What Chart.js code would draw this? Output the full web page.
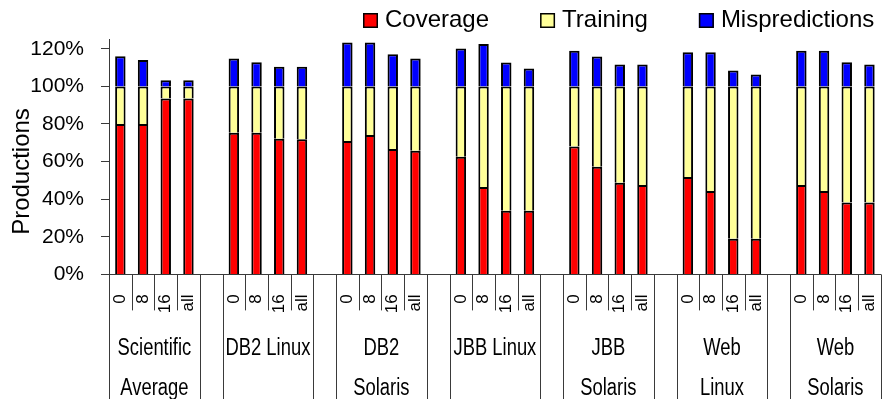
<!DOCTYPE html>
<html>
<head>
<meta charset="utf-8">
<script src="https://cdn.jsdelivr.net/npm/chart.js@4/dist/chart.umd.min.js"></script>
<style>
  html, body { margin: 0; padding: 0; overflow: hidden; background: #fff; }
  canvas { display: block; }
</style>
</head>
<body>
<canvas id="chart" width="910" height="399"></canvas>
<script>
// Cache configurations per workload
const configs = ['0', '8', '16', 'all'];
const workloads = [
  ['Scientific', 'Average'],
  ['DB2 Linux'],
  ['DB2', 'Solaris'],
  ['JBB Linux'],
  ['JBB', 'Solaris'],
  ['Web', 'Linux'],
  ['Web', 'Solaris']
];

// Percent of productions, four configurations per workload
const coverage = [
  80, 80, 93.5, 93.5,
  75.4, 75.4, 72.2, 71.9,
  71, 74.2, 66.7, 65.8,
  62.6, 46.5, 33.9, 33.9,
  68, 57.3, 48.8, 47.6,
  51.8, 44.4, 19, 19,
  47.6, 44.4, 38.2, 38.2
];
const training = [
  20, 20, 6.5, 6.5,
  24.6, 24.6, 27.8, 28.1,
  29, 25.8, 33.3, 34.2,
  37.4, 53.5, 66.1, 66.1,
  32, 42.7, 51.2, 52.4,
  48.2, 55.6, 81, 81,
  52.4, 55.6, 61.8, 61.8
];
const mispredictions = [
  16, 14, 3.3, 3.3,
  14.8, 12.9, 10.5, 10.5,
  23.3, 23.3, 17.1, 14.8,
  20.1, 22.5, 12.7, 9.5,
  18.9, 15.9, 11.6, 11.6,
  18.2, 18.2, 8.4, 6.3,
  18.9, 18.9, 12.9, 11.6
];
const yTicks = [0, 20, 40, 60, 80, 100, 120];

// Lay the workloads out side by side with one empty slot between them
function spread(values, blank) {
  const out = [];
  workloads.forEach((w, g) => {
    for (let k = 0; k < configs.length; k++) out.push(values[g * configs.length + k]);
    if (g < workloads.length - 1) out.push(blank);
  });
  return out;
}
const slotLabels = spread(workloads.flatMap(() => configs), '');
const SLOTS_PER_GROUP = configs.length + 1;

const FONT = '"Liberation Sans", Arial, sans-serif';
const LINE = '#3a3a3a';

// Second category row, separators, legend and axis title
const decorations = {
  id: 'decorations',
  afterDraw(chart) {
    const { ctx, chartArea } = chart;
    const x = chart.scales.x;
    const n = slotLabels.length;
    const slot = (x.right - x.left) / n;
    const axisY = chartArea.bottom;
    const bottom = chart.height;
    const edge = i => Math.round(x.left + i * slot) + 0.5;

    ctx.save();
    ctx.strokeStyle = LINE;
    ctx.lineWidth = 1;
    for (let i = 0; i <= n; i++) {
      const r = i % SLOTS_PER_GROUP;
      const long = r === 0 || r === SLOTS_PER_GROUP - 1;
      ctx.beginPath();
      ctx.moveTo(edge(i), axisY);
      ctx.lineTo(edge(i), long ? bottom : axisY + 36);
      ctx.stroke();
    }

    // workload names, set in a condensed width
    ctx.fillStyle = '#000';
    ctx.font = '23px ' + FONT;
    ctx.textAlign = 'center';
    ctx.textBaseline = 'middle';
    workloads.forEach((lines, g) => {
      const start = g * SLOTS_PER_GROUP;
      const cx = x.left + (start + configs.length / 2) * slot;
      lines.forEach((t, j) => {
        ctx.save();
        ctx.translate(cx, axisY + 74 + j * 40);
        ctx.scale(0.8, 1);
        ctx.fillText(t, 0, 0);
        ctx.restore();
      });
    });

    // legend
    ctx.font = '24px ' + FONT;
    ctx.textAlign = 'left';
    ctx.textBaseline = 'alphabetic';
    let lx = 363;
    chart.data.datasets.forEach(ds => {
      ctx.fillStyle = ds.backgroundColor;
      ctx.fillRect(lx, 13, 15, 15);
      ctx.strokeStyle = '#000';
      ctx.lineWidth = 1.5;
      ctx.strokeRect(lx + 0.75, 13.75, 13.5, 13.5);
      ctx.fillStyle = '#000';
      ctx.fillText(ds.label, lx + 22, 27);
      lx += 22 + ctx.measureText(ds.label).width + 51;
    });

    // y axis title
    ctx.translate(28.5, 171.5);
    ctx.rotate(-Math.PI / 2);
    ctx.textAlign = 'center';
    ctx.fillText('Productions', 0, 0);
    ctx.restore();
  }
};

new Chart(document.getElementById('chart'), {
  type: 'bar',
  data: {
    labels: slotLabels,
    datasets: [
      { label: 'Coverage', data: spread(coverage, null), backgroundColor: '#ff0000' },
      { label: 'Training', data: spread(training, null), backgroundColor: '#ffff99' },
      { label: 'Mispredictions', data: spread(mispredictions, null), backgroundColor: '#0000ff' }
    ]
  },
  options: {
    responsive: false,
    animation: false,
    layout: { padding: { top: 39.4, right: 10, bottom: 0, left: 0 } },
    datasets: {
      bar: { barPercentage: 0.46, categoryPercentage: 1, borderColor: '#000', borderWidth: 2 }
    },
    plugins: { legend: { display: false }, tooltip: { enabled: false } },
    scales: {
      x: {
        stacked: true,
        offset: true,
        grid: { display: true, drawOnChartArea: false, drawTicks: false },
        border: { color: LINE, width: 1 },
        ticks: {
          autoSkip: false, minRotation: 90, maxRotation: 90, padding: 20,
          color: '#000', font: { family: FONT, size: 17 }
        },
        afterFit(s) { s.height = 124.6; }
      },
      y: {
        stacked: true,
        min: 0,
        max: 125,
        afterBuildTicks(s) { s.ticks = yTicks.map(v => ({ value: v })); },
        grid: { drawOnChartArea: false, drawTicks: true, tickLength: 8, color: LINE },
        border: { color: LINE, width: 1 },
        ticks: {
          padding: 17, color: '#000',
          font: { family: FONT, size: 21 },
          callback: v => v + '%'
        },
        afterFit(s) { s.width = 109; }
      }
    }
  },
  plugins: [decorations]
});
</script>
</body>
</html>
